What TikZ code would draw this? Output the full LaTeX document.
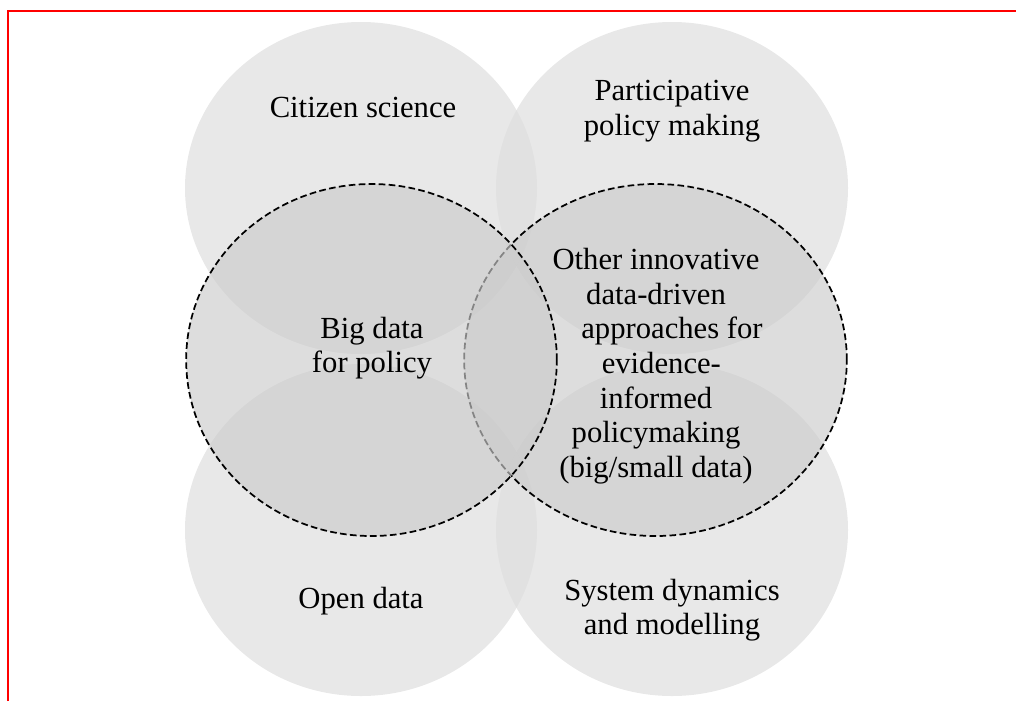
\documentclass[tikz,border=0pt]{standalone}
\usepackage{fontspec}
\setmainfont{Liberation Serif}
\usepackage{tikz}
\usetikzlibrary{shapes.geometric,positioning}
\definecolor{frame}{RGB}{255,0,0}
\definecolor{disc}{RGB}{222,222,222}
\definecolor{core}{RGB}{203,203,203}

\begin{document}
\begin{tikzpicture}[x=0.75pt, y=-0.75pt, font=\fontsize{23}{26}\selectfont,
      topic/.style={ellipse, fill=disc, fill opacity=0.7, inner sep=0pt,
        minimum width=264pt, minimum height=249pt},
      focus/.style={ellipse, draw, line width=1.3pt, dash pattern=on 5pt off 2.5pt,
        fill=core, fill opacity=0.65, inner sep=0pt, minimum height=264pt},
      lbl/.style={align=center, inner sep=0pt}]
    \useasboundingbox (0,0) rectangle (1016,701);
    % the four surrounding fields
    \node[topic] (CS) at (361,188) {};
    \node[topic] (PP) at (672,188) {};
    \node[topic] (OD) at (361,530) {};
    \node[topic] (SD) at (672,530) {};
    % dashed core areas, right one under the left one
    \node[focus, minimum width=287pt] (OI) at (655.5,360) {};
    \node[focus, minimum width=278pt] (BD) at (371.5,360) {};
    % labels
    \node[lbl, anchor=base] (CSl) at (363,117) {Citizen science};
    \node[lbl] (PPl) at (672,111) {Participative\\policy making};
    \node[lbl, anchor=base] (ODl) at (361,608) {Open data};
    \node[lbl] (SDl) at (672,610) {System dynamics\\and modelling};
    \node[lbl] (BDl) at (372,348) {Big data\\for policy};
    \node[lbl] (OIl) at (656,366) {Other innovative\\data-driven\\\hspace*{24pt}approaches for\\\hspace*{8pt}evidence-\\informed\\policymaking\\(big/small data)};
    % frame
    \draw[frame, line width=1.5pt] (8,701) -- (8,11) -- (1016,11);
  \end{tikzpicture}
\end{document}
